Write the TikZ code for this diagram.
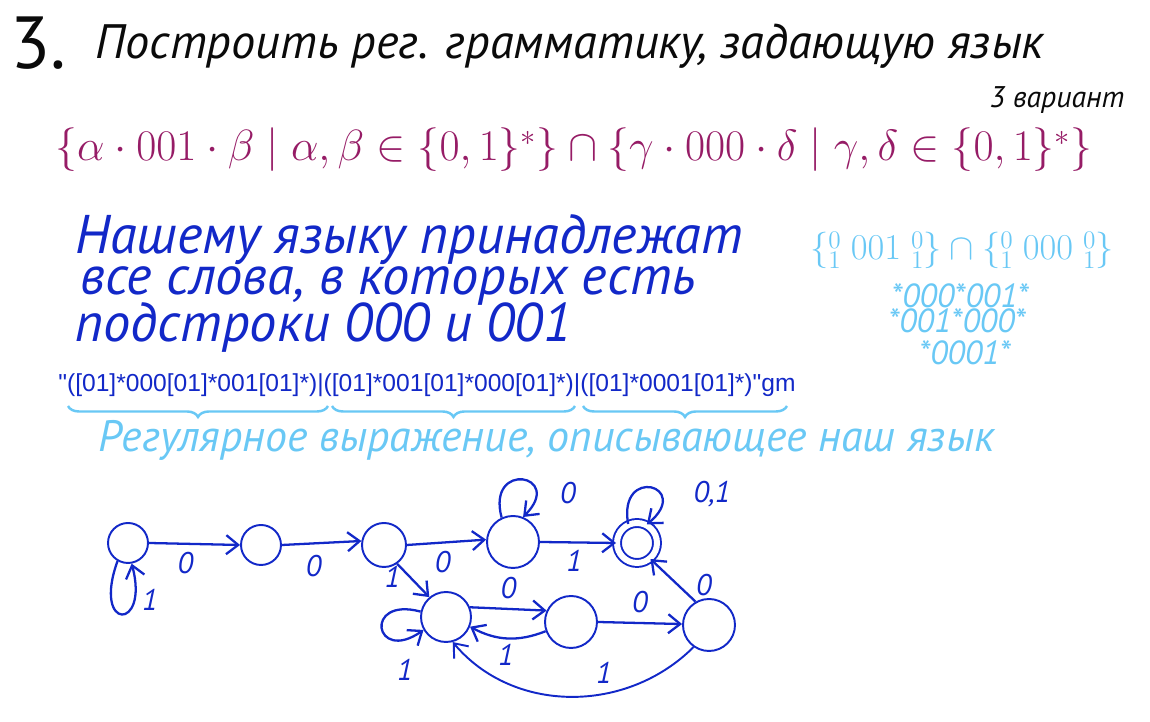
\documentclass[tikz,border=0pt]{standalone}
\usepackage{amsmath}
\usepackage{fontspec}
\setmainfont{PT Sans}
\newfontfamily\regexfont{Liberation Sans}
\usetikzlibrary{arrows.meta,decorations.pathreplacing,positioning}
\definecolor{hblack}{RGB}{10,10,10}
\definecolor{hmagenta}{RGB}{150,28,102}
\definecolor{hblue}{RGB}{18,40,200}
\definecolor{hlight}{RGB}{105,200,245}
\tikzset{
  st/.style={circle,draw=hblue,line width=1.1pt,inner sep=0,minimum size=0.8cm},
  arr/.style={->,draw=hblue,line width=1.3pt},
  lab/.style={text=hblue,font=\fontsize{17}{17}\selectfont\itshape,inner sep=1pt},
  brc/.style={draw=hlight,line width=1.4pt,decorate,decoration={brace,amplitude=0.22cm}}
}
\begin{document}
\begin{tikzpicture}[x=0.02cm,y=0.02cm,>={Straight Barb[length=2.4mm,width=3.8mm]}]
    \useasboundingbox (0,0) rectangle (1150,722);
    % task
    \node[anchor=west,inner sep=0,text=hblack,font=\fontsize{42}{42}\selectfont] (num) at (10,679) {3.};
    \node[anchor=west,inner sep=0,text=hblack,font=\fontsize{27.5}{28}\selectfont\itshape] (task) at (95,676) {Построить рег. грамматику, задающую язык};
    \node[inner sep=0,text=hblack,font=\fontsize{17}{17}\selectfont\itshape] (var) at (1057,622) {3 вариант};
    \node[anchor=west,inner sep=0,text=hmagenta,font=\fontsize{24}{24}\selectfont] (lang) at (55,572)
        {$\{\alpha\cdot 001\cdot\beta\mid\alpha,\beta\in\{0,1\}^*\}\cap\{\gamma\cdot 000\cdot\delta\mid\gamma,\delta\in\{0,1\}^*\}$};
    % explanation
    \node[anchor=west,inner sep=0,text=hblue,font=\fontsize{31}{31}\selectfont\itshape] (line1) at (75,482) {Нашему языку принадлежат};
    \node[anchor=west,inner sep=0,text=hblue,font=\fontsize{31}{31}\selectfont\itshape] (line2) at (80,436) {все слова, в которых есть};
    \node[anchor=west,inner sep=0,text=hblue,font=\fontsize{31}{31}\selectfont\itshape] (line3) at (75,394) {подстроки 000 и 001};
    % sketch on the right
    \node[inner sep=0,text=hlight,font=\fontsize{21}{21}\selectfont] (inter) at (962,472)
        {$\left\{\substack{0\\1}\;001\;\substack{0\\1}\right\}\cap\left\{\substack{0\\1}\;000\;\substack{0\\1}\right\}$};
    \node[inner sep=0,text=hlight,font=\fontsize{19}{19}\selectfont\itshape] (w1) at (960,426) {*000*001*};
    \node[inner sep=0,text=hlight,font=\fontsize{19}{19}\selectfont\itshape] (w2) at (957,401) {*001*000*};
    \node[inner sep=0,text=hlight,font=\fontsize{19}{19}\selectfont\itshape] (w3) at (965,369) {*0001*};
    % regex
    \node[anchor=west,inner sep=0,text=hblue,font=\fontsize{14}{14}\selectfont\regexfont] (regex) at (58,337)
        {"([01]*000[01]*001[01]*)|([01]*001[01]*000[01]*)|([01]*0001[01]*)"gm};
    \draw[brc] (328,316) -- (68,316);
    \draw[brc] (575,316) -- (332,316);
    \draw[brc] (787,316) -- (583,316);
    \node[anchor=west,inner sep=0,text=hlight,font=\fontsize{25}{25}\selectfont\itshape] (regname) at (98,282) {Регулярное выражение, описывающее наш язык};
    % automaton
    \node[st] (q0) at (128,179) {};
    \node[st] (q1) at (261,177) {};
    \node[st,minimum size=0.88cm] (q2) at (384,177) {};
    \node[st,minimum size=1.04cm] (q3) at (513,180) {};
    \node[st,double=white,double distance=0.12cm] (q4) at (637,179) {};
    \node[st,minimum size=1cm] (q5) at (446,105) {};
    \node[st,minimum size=1.04cm] (q6) at (571,100) {};
    \node[st,minimum size=1.04cm] (q7) at (709,97) {};
    \draw[arr] (q0.east) -- (q1.west) node[lab,pos=0.4,below=3pt] (l01) {0};
    \draw[arr] (q1.east) -- (q2.170) node[lab,pos=0.4,below=5pt] (l12) {0};
    \draw[arr] (q2.east) -- (q3.175) node[lab,pos=0.45,below=3pt] (l23) {0};
    \draw[arr] (q3.east) -- (q4.west) node[lab,pos=0.45,below=3pt] (l34) {1};
    \draw[arr] (q0.240) .. controls +(250:75) and +(285:70) .. (q0.280);
    \node[lab] (l00) at (150,122) {1};
    \draw[arr] (q3.115) .. controls +(105:60) and +(45:60) .. (q3.68);
    \node[lab] (l33) at (568,229) {0};
    \draw[arr] (q4.115) .. controls +(100:60) and +(40:60) .. (q4.62);
    \node[lab] (l44) at (712,228) {0,1};
    \draw[arr] (q2.-55) -- (q5.130) node[lab,pos=0.4,left=4pt] (l25) {1};
    \draw[arr] (q5.168) .. controls +(165:60) and +(215:60) .. (q5.210);
    \node[lab] (l55) at (405,52) {1};
    \draw[arr] (q5.22) -- (q6.155) node[lab,midway,above=4pt] (l56) {0};
    \draw[arr] (q6.200) to[bend left=25] (q5.338);
    \node[lab] (l65) at (506,67) {1};
    \draw[arr] (q6.east) -- (q7.178) node[lab,midway,above=4pt] (l67) {0};
    \draw[arr] (q7.120) -- (q4.-50) node[lab,pos=0.4,right=9pt] (l74) {0};
    \draw[arr,line width=1.1pt] (q7.235) to[out=225,in=-50] (q5.-75);
    \node[lab] (l75) at (604,49) {1};
\end{tikzpicture}
\end{document}
